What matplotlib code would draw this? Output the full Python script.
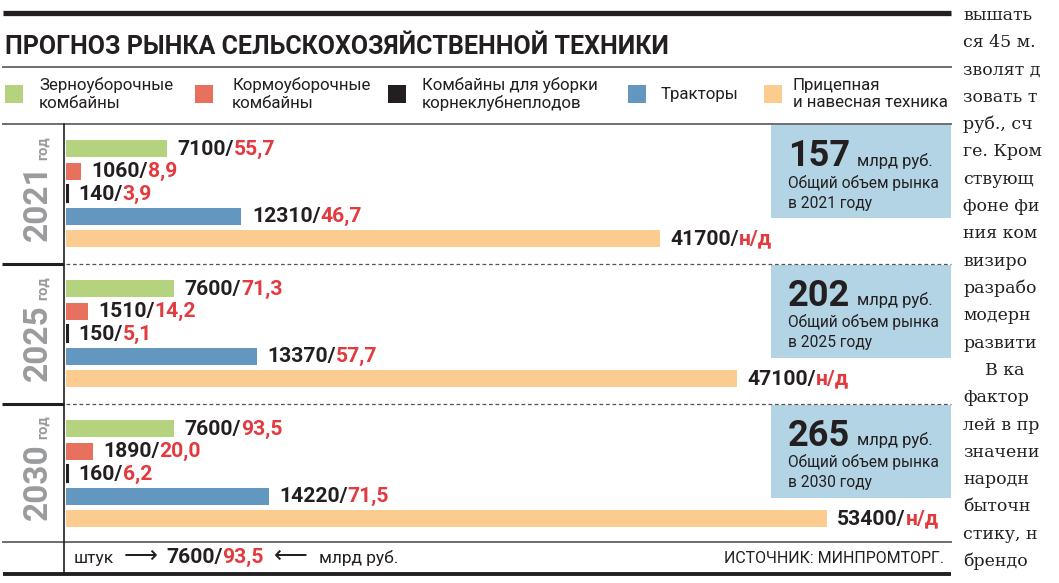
import matplotlib
matplotlib.use("Agg")
import matplotlib.pyplot as plt
import matplotlib.patches as mpatches

# ---------------- data ----------------
categories = ['Зерноуборочные\nкомбайны', 'Кормоуборочные\nкомбайны',
              'Комбайны для уборки\nкорнеклубнеплодов', 'Тракторы',
              'Прицепная\nи навесная техника']
years = ['2021', '2025', '2030']
units_2021 = [7100, 1060, 140, 12310, 41700]
units_2025 = [7600, 1510, 150, 13370, 47100]
units_2030 = [7600, 1890, 160, 14220, 53400]
rub_2021 = ['55,7', '8,9', '3,9', '46,7', 'н/д']
rub_2025 = ['71,3', '14,2', '5,1', '57,7', 'н/д']
rub_2030 = ['93,5', '20,0', '6,2', '71,5', 'н/д']
totals = [157, 202, 265]
title = 'ПРОГНОЗ РЫНКА СЕЛЬСКОХОЗЯЙСТВЕННОЙ ТЕХНИКИ'
source = 'ИСТОЧНИК: МИНПРОМТОРГ.'
example_units = '7600'
example_rub = '93,5'
column_lines = ['вышать', 'ся 45 м.', 'зволят д', 'зовать т', 'руб., сч',
                'ге. Кром', 'ствующ', 'фоне фи', 'ния ком', 'визиро',
                'разрабо', 'модерн', 'развити', '    В ка', 'фактор',
                'лей в пр', 'значени', 'народн', 'быточн', 'стику, н',
                'брендо']

units = [units_2021, units_2025, units_2030]
rubs = [rub_2021, rub_2025, rub_2030]

# ---------------- style ----------------
colors = ['#b5d27e', '#e8705f', '#231f20', '#6497c0', '#fbcb8f']
DARK = '#231f20'
RED = '#e23a3f'
GREY_YEAR = '#9a9b9d'
BOX = '#b3d4e4'
LINE_GREY = '#6d6e70'

plt.rcParams['font.family'] = ['Roboto', 'DejaVu Sans']
plt.rcParams['text.color'] = DARK

W, H = 1059, 583
fig = plt.figure(figsize=(W / 100, H / 100), dpi=100)
bg = fig.add_axes([0, 0, 1, 1])
bg.set_xlim(0, W)
bg.set_ylim(H, 0)
bg.axis('off')

# ---------------- frame lines ----------------
CHART_R = 951
bg.plot([3, CHART_R], [13, 13], color=DARK, lw=3.8, solid_capstyle='butt')
bg.plot([3, CHART_R], [66.5, 66.5], color=LINE_GREY, lw=1.4)
bg.plot([3, CHART_R], [124, 124], color=LINE_GREY, lw=1.4)
bg.plot([3, CHART_R], [542, 542], color=LINE_GREY, lw=1.4)
bg.plot([3, CHART_R], [574, 574], color=DARK, lw=2.8, solid_capstyle='butt')
bg.plot([63.5, 63.5], [124, 573], color=DARK, lw=1.2)

bg.text(5, 54, title, fontsize=18, fontweight='bold', va='baseline', ha='left')

# ---------------- legend ----------------
leg_sq_x = [5, 195, 388, 628, 764]
leg_tx_x = [39, 232, 422, 661, 793]
for c, sx, tx, lab in zip(colors, leg_sq_x, leg_tx_x, categories):
    bg.add_patch(mpatches.Rectangle((sx, 85), 18, 18, facecolor=c, edgecolor='none'))
    bg.text(tx, 94, lab, fontsize=12.2, va='center', ha='left', linespacing=1.2)

# ---------------- bars ----------------
TOP, BOT, LEFT = 124, 542, 66
PX_PER_UNIT = 0.01425
ax = fig.add_axes([LEFT / W, 1 - BOT / H, (CHART_R - LEFT) / W, (BOT - TOP) / H])
ax.set_xlim(0, (CHART_R - LEFT) / PX_PER_UNIT)
ax.set_ylim(BOT - TOP, 0)
ax.axis('off')

block_tops = [0, 140, 280]
for bi, (bt, u_list, r_list) in enumerate(zip(block_tops, units, rubs)):
    ys = [bt + 24.5 + 22.5 * j for j in range(len(u_list))]
    for j, (y, u, r) in enumerate(zip(ys, u_list, r_list)):
        lw = 1.5 if j == 2 else 0
        ax.barh(y, u, height=17, color=colors[j], edgecolor=colors[j], linewidth=lw)
        t1 = ax.annotate(f'{u}/', xy=(u, y), xytext=(7.5, -0.5), textcoords='offset points',
                         ha='left', va='center', fontsize=15.2, fontweight='bold', color=DARK)
        ax.annotate(r, xy=(1, 0), xycoords=t1, ha='left', va='bottom',
                    fontsize=15.2, fontweight='bold', color=RED)

# ---------------- year separators & labels ----------------
sep_y = [264, 404]
for sy in sep_y:
    bg.plot([2, 63.5], [sy, sy], color=DARK, lw=2.2, solid_capstyle='butt')
    bg.plot([66, CHART_R], [sy, sy], color='#555555', lw=0.9, linestyle=(0, (3, 2.2)))

block_px_tops = [124, 264, 404]
block_px_bots = [264, 404, 542]
for yr, t, b in zip(years, block_px_tops, block_px_bots):
    c = (t + b) / 2
    yt = bg.text(47, c + 47, yr, rotation=90, rotation_mode='anchor', ha='left', va='baseline',
                 fontsize=24, fontweight='bold', color=GREY_YEAR)
    bg.annotate('год', xy=(47, 1), xycoords=('data', yt), xytext=(0, 3),
                textcoords='offset points', rotation=90, rotation_mode='anchor',
                ha='left', va='baseline', fontsize=10.5, fontweight='bold', color=GREY_YEAR)

# ---------------- total boxes ----------------
box_tops = [125, 264.5, 404.5]
for yr, tot, bt in zip(years, totals, box_tops):
    bg.add_patch(mpatches.Rectangle((771, bt), CHART_R - 771, 93, facecolor=BOX, edgecolor='none'))
    big = bg.text(788, bt + 41, str(tot), fontsize=26, fontweight='bold', va='baseline', ha='left')
    bg.annotate('млрд руб.', xy=(1, bt + 41), xycoords=(big, 'data'), xytext=(5, 0),
                textcoords='offset points', va='baseline', ha='left', fontsize=12)
    bg.text(788, bt + 63, 'Общий объем рынка', fontsize=11.2, va='baseline', ha='left')
    bg.text(788, bt + 83, f'в {yr} году', fontsize=11.2, va='baseline', ha='left')

# ---------------- bottom key ----------------
base = 563
t = bg.text(74, base, 'штук', fontsize=12.5, va='baseline', ha='left')
parts = [('⟶', 17, 'normal', DARK, 7), (f'{example_units}/', 15.2, 'bold', DARK, 6),
         (example_rub, 15.2, 'bold', RED, 0), ('⟵', 17, 'normal', DARK, 7),
         ('млрд руб.', 12.5, 'normal', DARK, 8)]
prev = t
for txt, fs, fw, col, gap in parts:
    prev = bg.annotate(txt, xy=(1, base), xycoords=(prev, 'data'), xytext=(gap, 0),
                       textcoords='offset points', va='baseline', ha='left',
                       fontsize=fs, fontweight=fw, color=col)
bg.text(944, base, source, fontsize=11.5, va='baseline', ha='right')

# ---------------- neighbouring article column ----------------
for i, line in enumerate(column_lines):
    bg.text(963, 20 + 27.3 * i, line, fontsize=12.5, family='DejaVu Serif',
            va='baseline', ha='left', color=DARK)

fig.savefig('out.png', dpi=100)
